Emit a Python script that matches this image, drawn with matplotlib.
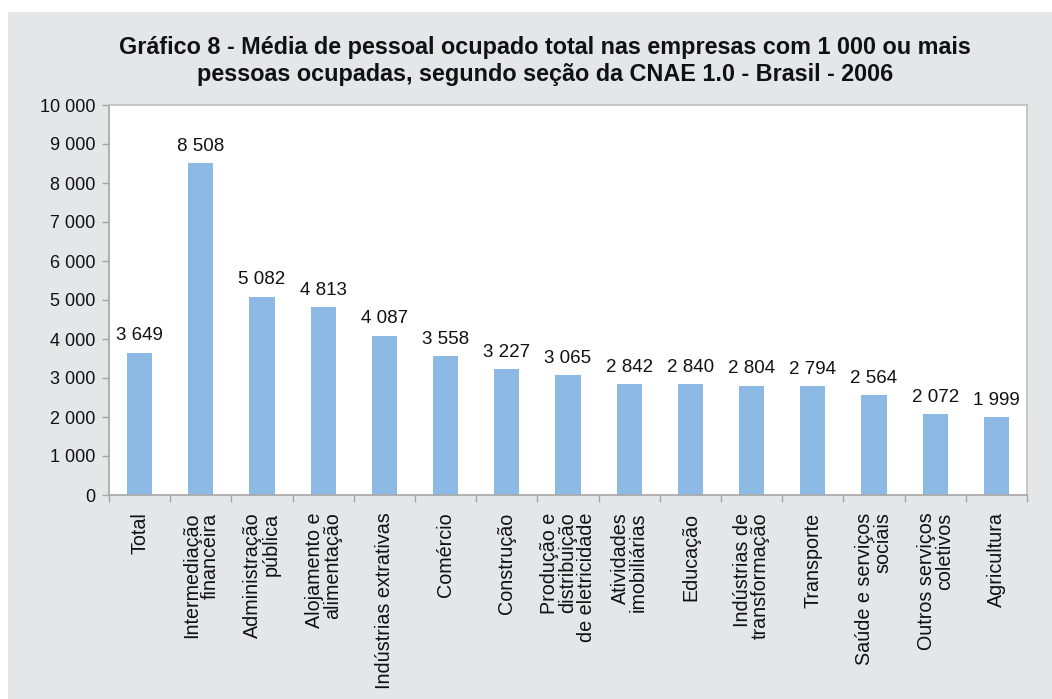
import matplotlib
matplotlib.use("Agg")
import matplotlib.pyplot as plt
from matplotlib.patches import Rectangle
from matplotlib.ticker import FuncFormatter, MultipleLocator

categories = [
    "Total", "Intermediação\nfinanceira", "Administração\npública",
    "Alojamento e\nalimentação", "Indústrias extrativas", "Comércio",
    "Construção", "Produção e\ndistribuição\nde eletricidade",
    "Atividades\nimobiliárias", "Educação", "Indústrias de\ntransformação",
    "Transporte", "Saúde e serviços\nsociais", "Outros serviços\ncoletivos",
    "Agricultura",
]
values = [3649, 8508, 5082, 4813, 4087, 3558, 3227, 3065, 2842, 2840,
          2804, 2794, 2564, 2072, 1999]
title = ("Gráfico 8 - Média de pessoal ocupado total nas empresas com 1 000 ou mais\n"
         "pessoas ocupadas, segundo seção da CNAE 1.0 - Brasil - 2006")

plt.rcParams['font.family'] = ['Liberation Sans', 'DejaVu Sans']

W, H = 1052, 699
fig = plt.figure(figsize=(W / 100, H / 100), dpi=100, facecolor='white')
bg = '#e5e6e8'
fig.patches.append(Rectangle((8 / W, 0), 1 - 8 / W, 1 - 12 / H, transform=fig.transFigure,
                             facecolor=bg, edgecolor='none', zorder=-10))

ax = fig.add_axes([109 / W, 1 - 495 / H, (1027 - 109) / W, (495 - 105) / H])
ax.set_facecolor('white')

def fmt(v):
    return f"{int(v):,}".replace(",", " ")

x = list(range(len(categories)))
bars = ax.bar(x, values, width=0.41, color='#8dbae4', zorder=2)
for xi, v in zip(x, values):
    ax.annotate(fmt(v), (xi, v), xytext=(0, 6), textcoords='offset points',
                ha='center', va='bottom', fontsize=13.5, color='#111111')

ax.set_xlim(-0.5, len(categories) - 0.5)
ax.set_ylim(0, 10000)
ax.yaxis.set_major_locator(MultipleLocator(1000))
ax.yaxis.set_major_formatter(FuncFormatter(lambda v, p: fmt(v)))
ax.tick_params(axis='y', labelsize=13, colors='#111111', length=5, width=1,
               color='#a6a6a6', direction='out', pad=5)

# x ticks at category boundaries
ax.set_xticks([i - 0.5 for i in range(len(categories) + 1)])
ax.set_xticklabels([])
ax.tick_params(axis='x', length=5, width=1, color='#a6a6a6', direction='out')
for xi, lab in zip(x, categories):
    ax.text(xi, -0.045, lab, transform=ax.get_xaxis_transform(), rotation=90,
            ha='center', va='top', multialignment='right', fontsize=14.2,
            color='#111111', linespacing=0.95)

for s in ['left', 'bottom']:
    ax.spines[s].set_color('#a6a6a6')
    ax.spines[s].set_linewidth(1.2)
for s in ['top', 'right']:
    ax.spines[s].set_color('#c0c0c0')
    ax.spines[s].set_linewidth(1.2)

fig.text(545 / W, 1 - 61 / H, title, ha='center', va='center', fontsize=16.8,
         fontweight='bold', color='#111111', linespacing=1.2)

fig.savefig('out.png', dpi=100, facecolor='white')
